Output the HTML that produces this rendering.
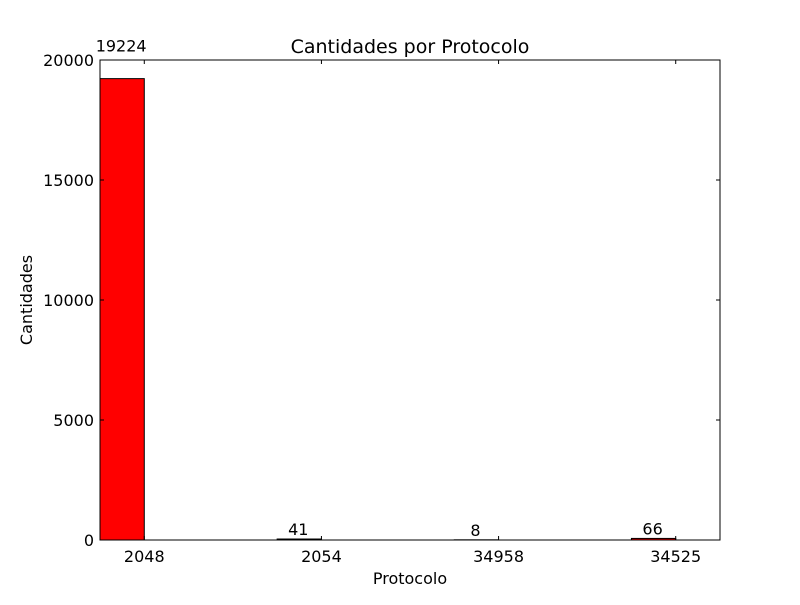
<!DOCTYPE html>
<html><head><meta charset="utf-8"><style>body{margin:0;background:#fff}svg text{font-family:"DejaVu Sans","Liberation Sans",sans-serif;fill:#000}</style></head>
<body>
<svg id="chart" width="800" height="600" xmlns="http://www.w3.org/2000/svg">
<rect width="800" height="600" fill="#fff"/>
<text x="410" y="53" font-size="19" text-anchor="middle">Cantidades por Protocolo</text>
<text x="410" y="584" font-size="16" text-anchor="middle">Protocolo</text>
<text x="32" y="300" font-size="16" text-anchor="middle" transform="rotate(-90 32 300)">Cantidades</text>
<g id="marks"></g>
<rect x="100" y="60" width="620" height="480" fill="none" stroke="#000" stroke-width="1"/>
</svg>
<script>
const categories = ["2048","2054","34958","34525"];
const values = [19224, 41, 8, 66];
const yTicks = [0, 5000, 10000, 15000, 20000];
const L=100,R=720,T=60,B=540;
const xs = v => L + v/3.5*(R-L);
const ys = v => B - v/20000*(B-T);
const g=document.getElementById('marks');
const NS='http://www.w3.org/2000/svg';
function mk(t,a){const e=document.createElementNS(NS,t);for(const k in a)e.setAttribute(k,a[k]);g.appendChild(e);return e;}
values.forEach((v,i)=>{
  const x0=xs(i), x1=xs(i+0.25);
  const r=mk('rect',{x:x0,y:ys(v),width:x1-x0,height:B-ys(v),fill:'#ff0000',stroke:'#000','stroke-width':1});
  
  
  const lb=mk('text',{x:(x0+x1)/2-1,y:ys(v*1.05)-4,'font-size':16,'text-anchor':'middle'});
  lb.textContent=v;
  
  
  const tx=x1;
  mk('line',{x1:tx,x2:tx,y1:B,y2:B-4,stroke:'#000'});
  mk('line',{x1:tx,x2:tx,y1:T,y2:T+4,stroke:'#000'});
  const tl=mk('text',{x:tx,y:B+22,'font-size':16,'text-anchor':'middle'});
  tl.textContent=categories[i];
  
  
});
yTicks.forEach(v=>{
  const y=ys(v);
  mk('line',{x1:L,x2:L+4,y1:y,y2:y,stroke:'#000'});
  mk('line',{x1:R,x2:R-4,y1:y,y2:y,stroke:'#000'});
  const t=mk('text',{x:L-6,y:y+6,'font-size':16,'text-anchor':'end'});
  t.textContent=v;
  
  
});
</script>
</body></html>
